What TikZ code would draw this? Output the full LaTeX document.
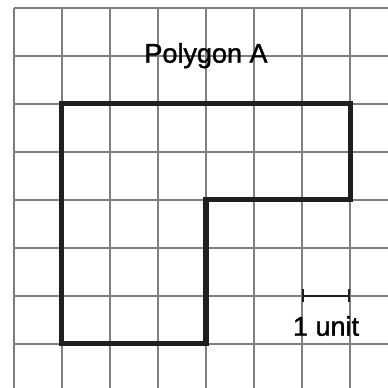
\documentclass[tikz,border=0pt]{standalone}
\usepackage{fontspec}
\setmainfont{Liberation Sans}
\newfontfamily\labelfont[FakeBold=1.3]{Liberation Sans}
\usetikzlibrary{arrows.meta}

\begin{document}
\begin{tikzpicture}
\useasboundingbox (-0.29,-0.9) rectangle (7.79,7.16);
\clip (-0.29,-0.9) rectangle (7.79,7.16);

%grid
\draw[gray, line width=1.1pt] (0,-1) grid (8,7);

\draw[line width=3pt, black!88, line join=miter] (1,5) -- (7,5) -- (7,3) -- (4,3) -- (4,0) -- (1,0) -- cycle;
\node at (4,6) (title) {\labelfont\fontsize{16}{19}\selectfont Polygon A};

%scale bar
\coordinate (u0) at (6,1);
\coordinate (u1) at (7,1);
\draw[line width=1.2pt, black!88, {Bar[width=0.27cm]}-{Bar[width=0.27cm]}] (u0) -- (u1);
\node at (6.5,0.37) (unit) {\labelfont\fontsize{16}{19}\selectfont 1 unit};
\end{tikzpicture}
\end{document}
